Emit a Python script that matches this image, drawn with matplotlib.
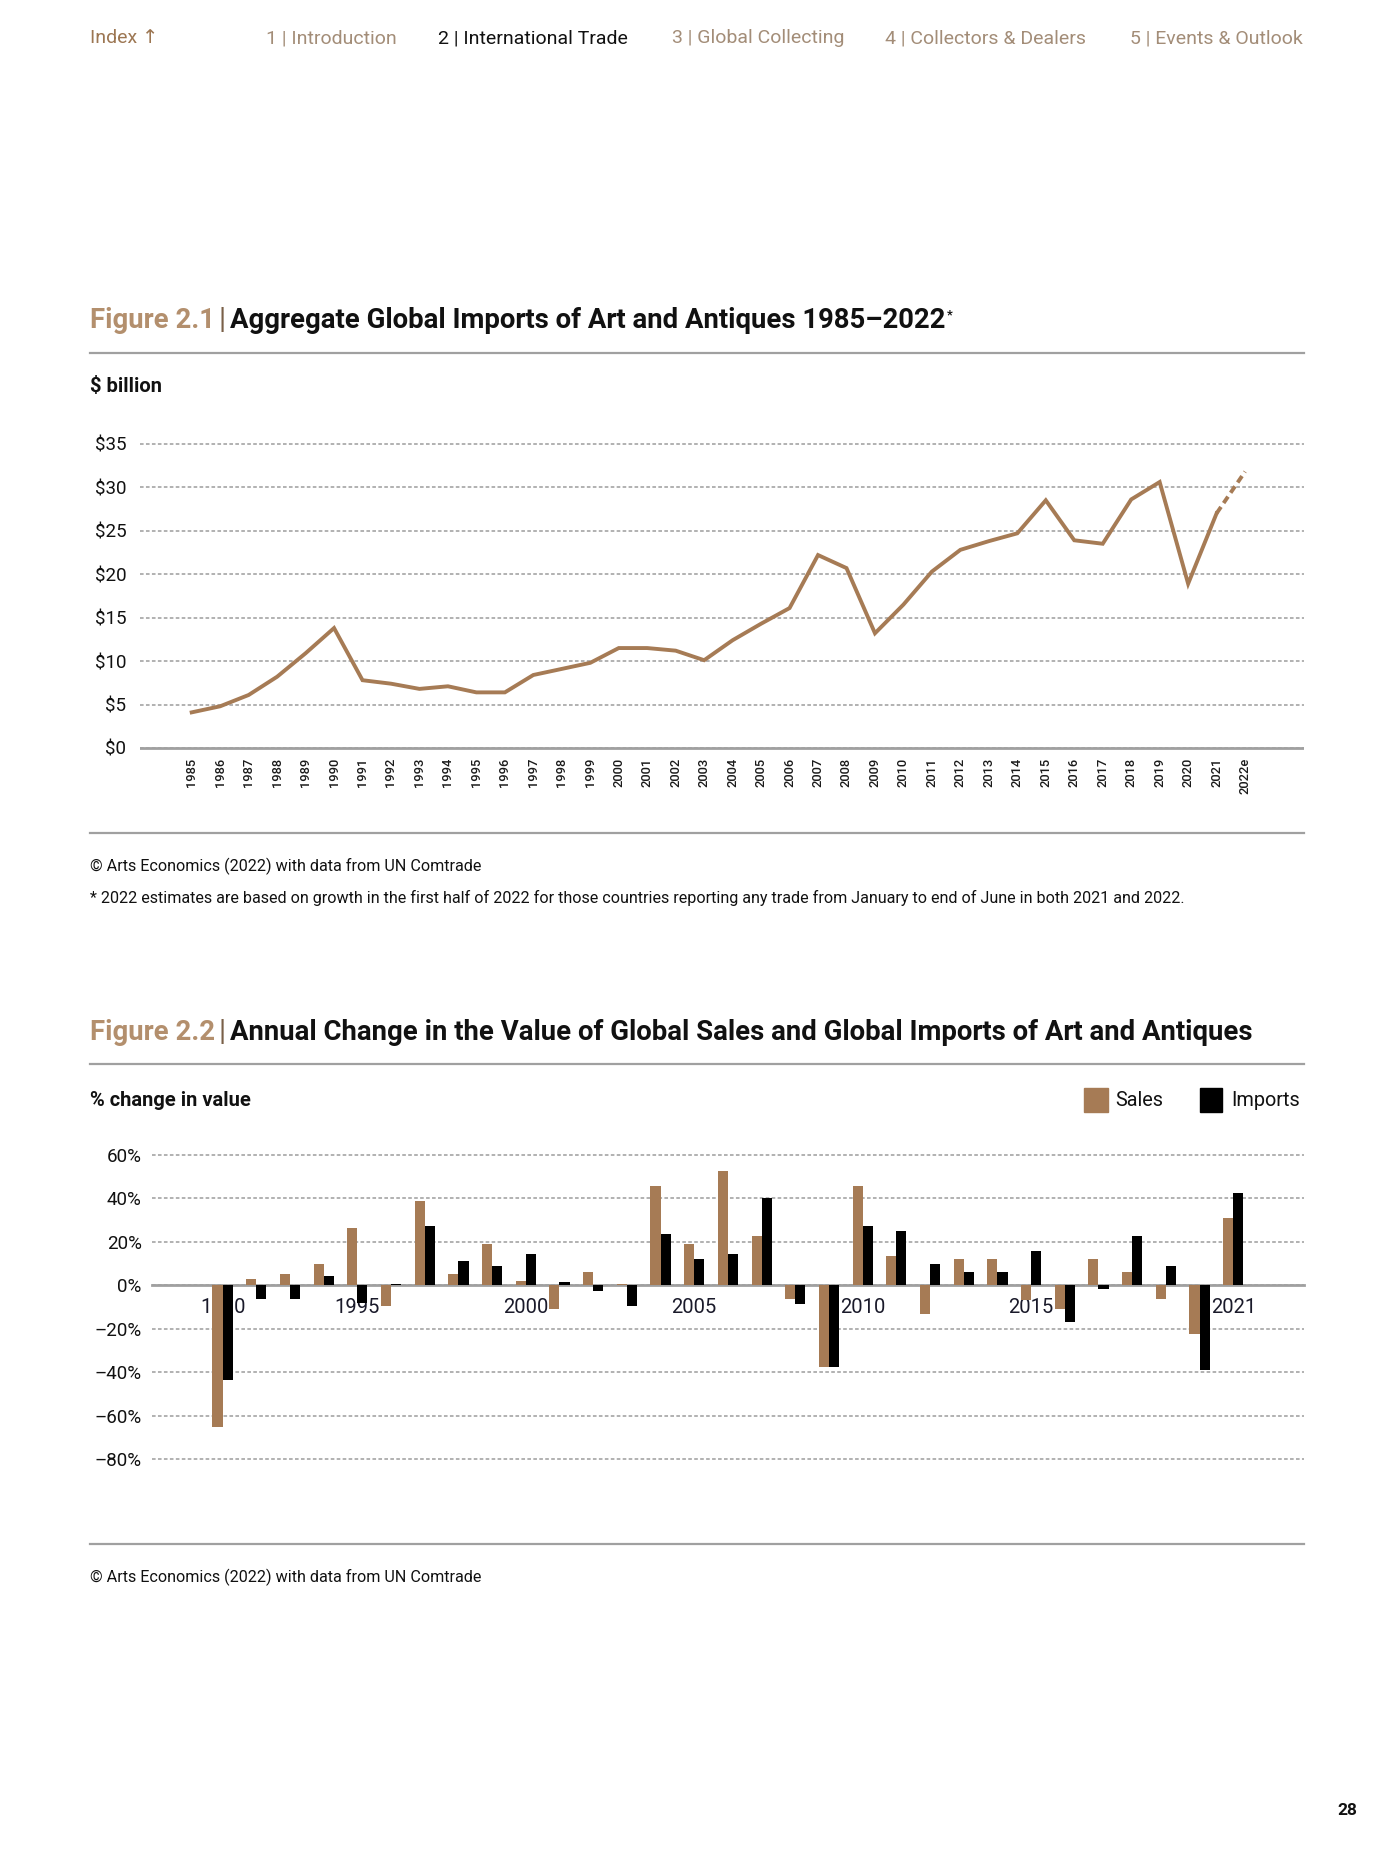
import matplotlib
matplotlib.use('Agg')
import matplotlib.pyplot as plt
from matplotlib import font_manager as fm
from matplotlib.patches import Rectangle
from matplotlib.lines import Line2D

# ---------------- data ----------------
years1 = list(range(1985, 2023))
tick_labels1 = [str(y) for y in range(1985, 2022)] + ['2022e']
imports_bn = [4.1, 4.8, 6.1, 8.2, 10.9, 13.8, 7.8, 7.4, 6.8, 7.1,
              6.4, 6.4, 8.4, 9.1, 9.8, 11.5, 11.5, 11.2, 10.1, 12.4,
              14.3, 16.1, 22.2, 20.7, 13.2, 16.5, 20.3, 22.8, 23.8, 24.7,
              28.5, 23.9, 23.5, 28.6, 30.6, 18.9, 27.0, 31.8]
y_ticks1 = [0, 5, 10, 15, 20, 25, 30, 35]
y_labels1 = ['$0', '$5', '$10', '$15', '$20', '$25', '$30', '$35']

years2 = list(range(1991, 2022))
sales_pct = [-65.4, 2.9, 5.2, 9.8, 26.2, -9.7, 38.8, 5.2, 19.2, 1.8,
             -10.9, 6.3, 0.6, 45.7, 19.2, 52.6, 22.6, -6.3, -37.7, 45.7,
             13.4, -13.1, 12.3, 12.3, -7.0, -10.9, 12.3, 6.3, -6.3, -22.5, 30.8]
imports_pct = [-43.5, -6.3, -6.3, 4.2, -8.0, 0.8, 27.2, 11.1, 8.8, 14.6,
               1.7, -2.8, -9.7, 23.7, 12.3, 14.6, 40.0, -8.6, -37.7, 27.2,
               24.9, 9.8, 6.3, 6.3, 15.7, -16.8, -1.5, 22.6, 8.8, -38.9, 42.3]
x_ticks2 = [1991, 1995, 2000, 2005, 2010, 2015, 2021]
x_labels2 = ['1990', '1995', '2000', '2005', '2010', '2015', '2021']
y_ticks2 = [-80, -60, -40, -20, 0, 20, 40, 60]
y_labels2 = ['–80%', '–60%', '–40%', '–20%', '0%', '20%', '40%', '60%']

# ---------------- style ----------------
avail = {f.name for f in fm.fontManager.ttflist}
FONT = 'DejaVu Sans'
for cand in ['Roboto', 'Lato', 'Open Sans']:
    if cand in avail:
        FONT = cand
        break
plt.rcParams['font.family'] = [FONT, 'DejaVu Sans']

TAN = '#b38f6d'
BROWN = '#a67b55'
GRID = '#ababab'
RULE = '#a0a0a0'
NAV = '#a38d78'
DARK = '#111111'
DASH = (0, (2, 1.3))

W, H = 1400, 1855
fig = plt.figure(figsize=(W / 100, H / 100), dpi=100)
fig.patch.set_facecolor('white')
renderer = fig.canvas.get_renderer()


def fx(x):
    return x / W


def fy(y):
    return 1 - y / H


def add_ax(l, r, t, b):
    return fig.add_axes([l / W, 1 - b / H, (r - l) / W, (b - t) / H])


def rule(y, x0=90, x1=1304, lw=1.6):
    fig.add_artist(Line2D([fx(x0), fx(x1)], [fy(y), fy(y)], color=RULE, lw=lw,
                          transform=fig.transFigure))


def seq_text(x, y, pieces):
    for s, kw in pieces:
        kw = dict(kw)
        gap = kw.pop('gap', 0)
        dy = kw.pop('dy', 0)
        t = fig.text(fx(x), fy(y + dy), s, ha='left', va='baseline', **kw)
        bb = t.get_window_extent(renderer)
        x += bb.width + gap


# ---------------- header nav ----------------
nav_y = 43
NAV_FS = 14
fig.text(fx(90), fy(nav_y), 'Index ↑', color='#9c7652', fontsize=NAV_FS, va='baseline')
fig.text(fx(266), fy(nav_y), '1 | Introduction', color=NAV, fontsize=NAV_FS, va='baseline')
fig.text(fx(438), fy(nav_y), '2 | International Trade', color=DARK, fontsize=NAV_FS, va='baseline')
fig.text(fx(672), fy(nav_y), '3 | Global Collecting', color=NAV, fontsize=NAV_FS, va='baseline')
fig.text(fx(885), fy(nav_y), '4 | Collectors & Dealers', color=NAV, fontsize=NAV_FS, va='baseline')
fig.text(fx(1303), fy(nav_y), '5 | Events & Outlook', color=NAV, fontsize=NAV_FS, va='baseline', ha='right')

# ---------------- Figure 2.1 ----------------
TFS = 19.8
seq_text(90, 328, [
    ('Figure 2.1', dict(color=TAN, fontsize=TFS, fontweight='bold', gap=4)),
    ('|', dict(color='#7a6048', fontsize=TFS + 1, gap=4)),
    ('Aggregate Global Imports of Art and Antiques 1985–2022', dict(color=DARK, fontsize=TFS, fontweight='bold', gap=1)),
    ('*', dict(color=DARK, fontsize=9, fontweight='bold', dy=-10)),
])
rule(352.6)
fig.text(fx(90), fy(387), '$ billion', color=DARK, fontsize=14.5, fontweight='bold', va='center')

per1 = (748 - 443.8) / 35
ax1 = add_ax(139.6, 1304, 748 - 36 * per1, 748 + 0.5 * per1)
ax1.set_xlim(1983.17, 2024.07)
ax1.set_ylim(-0.5, 36)
for s in ax1.spines.values():
    s.set_visible(False)
ax1.set_yticks(y_ticks1)
ax1.set_yticklabels(y_labels1)
ax1.set_xticks(years1)
ax1.set_xticklabels(tick_labels1, rotation=90, fontsize=9.3, fontweight='medium', color='#1a1a1a')
ax1.tick_params(axis='both', length=0)
ax1.tick_params(axis='y', labelsize=13.5, pad=9.5, labelcolor=DARK)
ax1.tick_params(axis='x', pad=4)
ax1.yaxis.grid(True, linestyle=DASH, color=GRID, lw=1.3)
ax1.set_axisbelow(True)
ax1.axhline(0, color=RULE, lw=2, zorder=1.5)
ax1.plot(years1[:-1], imports_bn[:-1], color=BROWN, lw=2.8, solid_joinstyle='miter', zorder=3)
ax1.plot(years1[-2:], imports_bn[-2:], color=BROWN, lw=2.8, linestyle=(0, (2, 1.2)), zorder=3)

rule(833)
FN_FS = 11.6
fig.text(fx(90), fy(866), '© Arts Economics (2022) with data from UN Comtrade', color=DARK, fontsize=FN_FS, va='center')
fig.text(fx(90), fy(898), '* 2022 estimates are based on growth in the first half of 2022 for those countries '
         'reporting any trade from January to end of June in both 2021 and 2022.', color=DARK, fontsize=FN_FS, va='center')

# ---------------- Figure 2.2 ----------------
seq_text(90, 1040, [
    ('Figure 2.2', dict(color=TAN, fontsize=TFS, fontweight='bold', gap=4)),
    ('|', dict(color='#7a6048', fontsize=TFS + 1, gap=4)),
    ('Annual Change in the Value of Global Sales and Global Imports of Art and Antiques',
     dict(color=DARK, fontsize=TFS, fontweight='bold')),
])
rule(1064)
fig.text(fx(90), fy(1100.6), '% change in value', color=DARK, fontsize=14.5, fontweight='bold', va='center')

# legend
fig.add_artist(Rectangle((fx(1084), fy(1112)), 24 / W, 24 / H, color=BROWN, transform=fig.transFigure))
fig.text(fx(1115), fy(1100.6), 'Sales', color=DARK, fontsize=14.3, va='center')
fig.add_artist(Rectangle((fx(1200), fy(1112)), 22 / W, 24 / H, color='black', transform=fig.transFigure))
fig.text(fx(1231), fy(1100.6), 'Imports', color=DARK, fontsize=14.3, va='center')

per2 = (1459 - 1155) / 140
zero2 = 1155 + 60 * per2
ax2 = add_ax(151.5, 1304, zero2 - 62 * per2, zero2 + 82 * per2)
ax2.set_xlim(1988.89, 2023.1)
ax2.set_ylim(-82, 62)
for s in ['top', 'right', 'left']:
    ax2.spines[s].set_visible(False)
ax2.spines['bottom'].set_position(('data', 0))
ax2.spines['bottom'].set_color(RULE)
ax2.spines['bottom'].set_linewidth(2)
ax2.spines['bottom'].set_zorder(0.8)
ax2.set_yticks(y_ticks2)
ax2.set_yticklabels(y_labels2)
ax2.set_xticks(x_ticks2)
ax2.set_xticklabels(x_labels2)
ax2.tick_params(axis='both', length=0)
ax2.tick_params(axis='y', labelsize=13.5, pad=7, labelcolor=DARK)
ax2.tick_params(axis='x', labelsize=14.5, pad=9.5, labelcolor='#1a1a2a')
ax2.yaxis.grid(True, linestyle=DASH, color=GRID, lw=1.3)
ax2.set_axisbelow(True)
bw = 0.3
ax2.bar([y - bw / 2 for y in years2], sales_pct, width=bw, color=BROWN, zorder=2)
ax2.bar([y + bw / 2 for y in years2], imports_pct, width=bw, color='black', zorder=2)

rule(1544)
fig.text(fx(90), fy(1577.5), '© Arts Economics (2022) with data from UN Comtrade', color=DARK, fontsize=FN_FS, va='center')

fig.text(fx(1357), fy(1810.6), '28', color=DARK, fontsize=12.5, fontweight='bold', va='center', ha='right')

fig.savefig('out.png', dpi=100, facecolor='white')
